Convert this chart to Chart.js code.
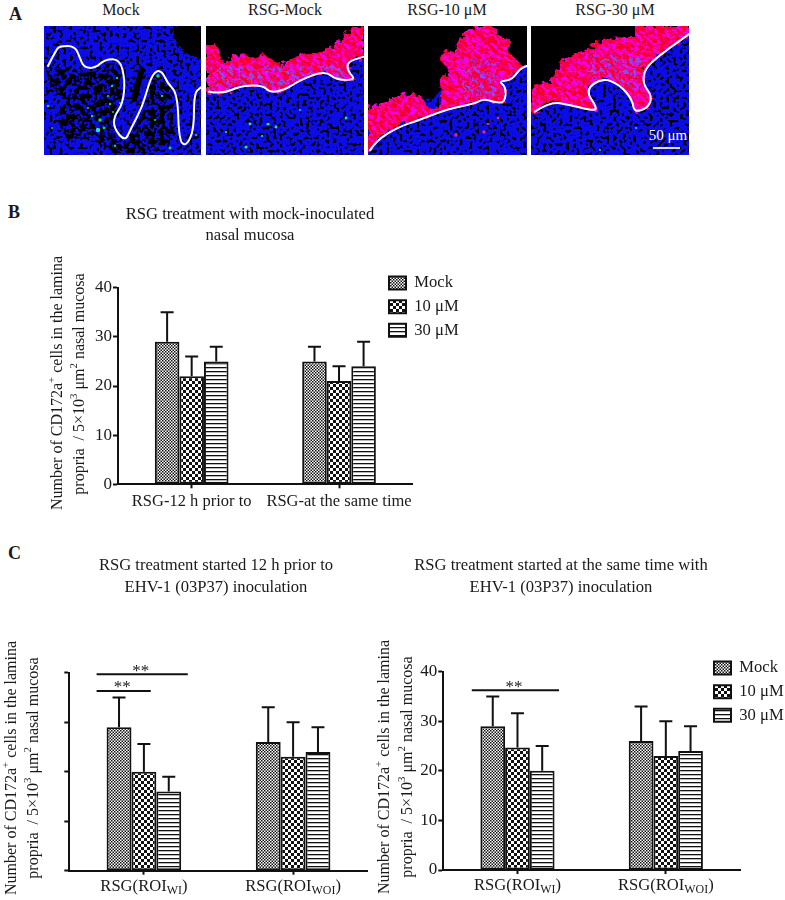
<!DOCTYPE html>
<html><head><meta charset="utf-8">
<script src="https://cdn.jsdelivr.net/npm/chart.js@4/dist/chart.umd.min.js"></script>
<style>
html,body{margin:0;padding:0;background:#fff;width:785px;height:900px;overflow:hidden}
body{position:relative;font-family:"Liberation Serif",serif;color:#1a1a1a}
canvas{position:absolute}
.t{position:absolute;white-space:nowrap;transform:translate(-50%,-50%);font-size:16px}
.p{position:absolute;font-weight:bold;font-size:18px;transform:translateY(-50%)}
svg{position:absolute;left:0;top:0}
</style></head><body>
<div class="p" style="left:9px;top:14px">A</div>
<div class="p" style="left:8px;top:212px">B</div>
<div class="p" style="left:8px;top:553px">C</div>
<div class="t" style="left:121px;top:10px">Mock</div>
<div class="t" style="left:285px;top:10px">RSG-Mock</div>
<div class="t" style="left:447px;top:10px">RSG-10 μM</div>
<div class="t" style="left:615px;top:10px">RSG-30 μM</div>
<svg width="785" height="170" viewBox="0 0 785 170">
<defs>
<filter id="spk" x="0" y="0" width="100%" height="100%"><feTurbulence type="fractalNoise" baseFrequency=".3" numOctaves="1" seed="4"/><feColorMatrix values="0 0 0 0 0 0 0 0 0 0 0 0 0 0 0 14 0 0 0 -7.6"/></filter>
<filter id="heavy" x="0" y="0" width="100%" height="100%"><feTurbulence type="fractalNoise" baseFrequency=".2" numOctaves="2" seed="14"/><feColorMatrix values="0 0 0 0 0 0 0 0 0 0 0 0 0 0 0 14 0 0 0 -6.4"/></filter>
<filter id="mag" x="0" y="0" width="100%" height="100%"><feTurbulence type="fractalNoise" baseFrequency=".26" numOctaves="2" seed="12"/><feColorMatrix values="0 0 0 0 .9 0 0 0 0 0 0 0 0 0 .88 5 0 0 0 -2.2"/></filter>
<filter id="blu" x="0" y="0" width="100%" height="100%"><feTurbulence type="fractalNoise" baseFrequency=".24" numOctaves="2" seed="21"/><feColorMatrix values="0 0 0 0 .25 0 0 0 0 .08 0 0 0 0 .85 6 0 0 0 -3.1"/></filter>
<filter id="rough" x="-5%" y="-5%" width="110%" height="110%"><feTurbulence type="fractalNoise" baseFrequency=".17" numOctaves="2" seed="6"/><feDisplacementMap in="SourceGraphic" scale="10"/></filter>
<filter id="glow" x="-40%" y="-40%" width="180%" height="180%"><feGaussianBlur stdDeviation=".7"/></filter>
<filter id="soft" x="-10%" y="-10%" width="120%" height="120%"><feGaussianBlur stdDeviation="3"/></filter>
<clipPath id="c1"><rect x="44" y="26" width="157" height="129"/></clipPath>
<clipPath id="c2"><rect x="206" y="26" width="158" height="129"/></clipPath>
<clipPath id="c3"><rect x="368" y="26" width="159" height="129"/></clipPath>
<clipPath id="c4"><rect x="531" y="26" width="158" height="129"/></clipPath>
<clipPath id="d1"><polygon transform="scale(.5 .33333)" points="92,210 130,205 160,215 190,215 215,190 240,190 247,300 225,350 225,410 250,440 280,350 300,300 300,460 215,460 185,410 135,420 110,350 135,300 100,260"/><polygon transform="scale(.5 .33333)" points="300,230 320,225 345,280 348,440 300,460"/></clipPath>
<clipPath id="r2"><polygon transform="scale(.5 .33333)" points="412,135 430,130 445,185 480,160 510,175 530,165 560,195 600,165 640,160 680,125 700,85 728,78 728,170 695,185 695,210 712,240 670,240 650,212 600,240 570,270 540,278 525,255 480,258 445,282 412,278"/></clipPath>
<clipPath id="r3"><polygon transform="scale(.5 .33333)" points="736,321 783,301 813,281 840,286 860,331 883,306 880,236 903,226 890,196 877,176 890,156 907,151 923,106 950,81 993,81 993,106 1020,116 1017,156 1043,196 1055,196 1037,206 1023,236 997,241 1010,256 1010,306 983,306 963,296 950,311 890,328 860,345 837,356 797,376 763,406 740,451 736,456"/></clipPath>
<clipPath id="r4"><polygon transform="scale(.5 .33333)" points="1062,260 1100,245 1130,175 1170,150 1210,115 1270,110 1270,78 1380,78 1380,100 1320,165 1290,205 1285,250 1305,290 1295,325 1268,337 1265,300 1240,255 1205,233 1170,270 1195,325 1185,332 1140,315 1100,305 1070,335 1062,340"/></clipPath>
</defs>
<!-- micrograph 1 -->
<g clip-path="url(#c1)"><rect x="44" y="26" width="157" height="129" fill="#0c0ce6"/><rect x="44" y="26" width="157" height="129" filter="url(#spk)"/>
<g clip-path="url(#d1)"><rect x="44" y="26" width="157" height="129" filter="url(#heavy)"/></g>
<g transform="scale(.5 .33333)"><polygon points="347,78 403,78 403,176 370,160 347,110" fill="#000" filter="url(#rough)"/><polygon points="280,196 262,296 273,306 290,206" fill="#000"/></g>
<g fill="#18d850" filter="url(#glow)"><circle cx="112" cy="86" r="1.2"/><circle cx="117" cy="78" r="1.2"/><circle cx="110" cy="104" r="1.2"/><circle cx="113" cy="112" r="1"/><circle cx="100" cy="120" r="1.8"/><circle cx="98" cy="130" r="2.2" fill="#20e8c0"/><circle cx="104" cy="128" r="1.4"/><circle cx="92" cy="116" r="1.2"/><circle cx="120" cy="103" r="1"/><circle cx="158" cy="76" r="1.8"/><circle cx="162" cy="96" r="1.2"/><circle cx="155" cy="120" r="1"/><circle cx="48" cy="106" r="1.3"/><circle cx="115" cy="146" r="1.2"/><circle cx="170" cy="148" r="1.4"/><circle cx="108" cy="96" r="1.1"/><circle cx="88" cy="108" r="1"/><circle cx="52" cy="128" r=".9"/><circle cx="196" cy="135" r="1"/></g></g>
<!-- micrograph 2 -->
<g clip-path="url(#c2)"><rect x="206" y="26" width="158" height="129" fill="#0c0ce6"/><rect x="206" y="26" width="158" height="129" filter="url(#spk)"/>
<g transform="scale(.5 .33333)"><polygon points="412,78 728,78 728,170 600,190 412,280" fill="#000"/></g>
<g filter="url(#rough)"><g clip-path="url(#r2)"><rect x="206" y="26" width="158" height="90" fill="#f4002c"/><rect x="206" y="26" width="158" height="90" filter="url(#mag)"/><rect x="206" y="66" width="158" height="40" filter="url(#blu)"/></g></g>
<g fill="#20e0a0" filter="url(#glow)"><circle cx="250" cy="124" r="1.4"/><circle cx="268" cy="124" r="1.6"/><circle cx="276" cy="127" r="1.4"/><circle cx="246" cy="147" r="1.6"/><circle cx="262" cy="136" r="1.1"/><circle cx="346" cy="118" r="1.4"/><circle cx="226" cy="132" r="1.1"/><circle cx="300" cy="110" r=".9"/></g></g>
<!-- micrograph 3 -->
<g clip-path="url(#c3)"><rect x="368" y="26" width="159" height="129" fill="#0c0ce6"/><rect x="368" y="26" width="159" height="129" filter="url(#spk)"/>
<g transform="scale(.5 .33333)"><polygon points="736,78 1055,78 1055,196 1000,200 900,232 880,272 866,296 845,296 736,335" fill="#000"/></g>
<g filter="url(#rough)"><g clip-path="url(#r3)"><rect x="368" y="26" width="159" height="129" fill="#f4002c"/><rect x="368" y="26" width="159" height="129" filter="url(#mag)"/><rect x="462" y="60" width="36" height="38" filter="url(#blu)"/></g></g>
<g fill="#e020a0" filter="url(#glow)"><circle cx="456" cy="135" r="1.8"/><circle cx="484" cy="132" r="1.8"/><circle cx="498" cy="118" r="1.3"/><circle cx="488" cy="124" r="1.3"/></g></g>
<!-- micrograph 4 -->
<g clip-path="url(#c4)"><rect x="531" y="26" width="158" height="129" fill="#0c0ce6"/><rect x="531" y="26" width="158" height="129" filter="url(#spk)"/>
<g transform="scale(.5 .33333)"><polygon points="1062,78 1380,78 1380,100 1200,240 1062,335" fill="#000"/></g>
<g filter="url(#rough)"><g clip-path="url(#r4)"><rect x="531" y="26" width="158" height="129" fill="#f4002c"/><rect x="531" y="26" width="158" height="129" filter="url(#mag)"/><rect x="590" y="56" width="50" height="34" filter="url(#blu)"/></g></g>
<g fill="#20e0a0" filter="url(#glow)"><circle cx="600" cy="150" r="1"/><circle cx="636" cy="128" r="1"/></g></g>
<!-- boundaries -->
<g transform="scale(.5 .33333)" fill="none" stroke="#fff" stroke-width="2" stroke-linejoin="round" stroke-linecap="round">
<path class="wl" vector-effect="non-scaling-stroke" data-p="96,198 112,150 120,138 150,138 160,175 168,202 190,205 210,178 240,178 250,240 246,310 228,350 228,385 250,425 262,385 285,320 300,240 312,212 325,215 335,250 355,280 358,420 372,440 388,390 388,280 402,262"/>
<path class="wl" vector-effect="non-scaling-stroke" data-p="418,275 445,282 480,258 525,255 540,278 570,270 600,240 650,212 672,240 712,240 695,212 695,185 728,170"/>
<path class="wl" vector-effect="non-scaling-stroke" data-p="740,451 753,421 797,381 837,361 897,326 950,311 967,296 987,306 1010,309 1012,261 997,244 1023,241 1040,206 1057,196"/>
<path class="wl" vector-effect="non-scaling-stroke" data-p="1070,335 1100,305 1140,315 1185,332 1195,325 1170,270 1205,233 1240,255 1265,300 1268,337 1295,325 1305,290 1285,250 1290,205 1320,165 1380,100"/>
</g>
<rect x="653" y="147" width="27" height="2" fill="#fff" opacity=".85"/>
<text x="668" y="140" fill="#fff" font-family="Liberation Serif" font-size="15" text-anchor="middle">50 μm</text>
</svg>

<canvas id="chartB" width="500" height="325" style="left:0;top:195px"></canvas>
<canvas id="chartC1" width="432" height="350" style="left:0;top:550px"></canvas>
<canvas id="chartC2" width="448" height="350" style="left:337px;top:550px"></canvas>

<script>
// ---- data ----
const seriesNames = ['Mock', '10 μM', '30 μM'];
const tickValues = [0, 10, 20, 30, 40];

const categoriesB = ['RSG-12 h prior to', 'RSG-at the same time'];
const mockB = [29, 25];
const tenB = [22, 21];
const thirtyB = [25, 24];
const mockBUpper = [35, 28];
const tenBUpper = [26, 24];
const thirtyBUpper = [28, 29];

const categoriesC = ['RSG(ROI_{WI})', 'RSG(ROI_{WOI})'];
const mockC1 = [29, 26];
const tenC1 = [20, 23];
const thirtyC1 = [16, 24];
const mockC1Upper = [35, 33];
const tenC1Upper = [25.6, 30];
const thirtyC1Upper = [19, 29];

const mockC2 = [29, 26];
const tenC2 = [24.7, 23];
const thirtyC2 = [20, 24];
const mockC2Upper = [35, 33];
const tenC2Upper = [31.6, 30];
const thirtyC2Upper = [25, 29];

const titleB = ['RSG treatment with mock-inoculated', 'nasal mucosa'];
const titleC1 = ['RSG treatment started 12 h prior to', 'EHV-1 (03P37) inoculation'];
const titleC2 = ['RSG treatment started at the same time with', 'EHV-1 (03P37) inoculation'];
const yTitleLines = ['Number of CD172a^{+} cells in the lamina', 'propria  / 5×10^{3} μm^{2} nasal mucosa'];
const sigC1 = [[39.7, -0.317, 0.294], [36.3, -0.317, 0.046]];
const sigC2 = [[36.25, -0.308, 0.28]];

// ---- smooth the tissue boundaries in the micrographs ----
document.querySelectorAll('.wl').forEach(el => {
  const p = el.dataset.p.split(' ').map(s => s.split(',').map(Number));
  let d = 'M' + p[0];
  for (let i = 1; i < p.length - 1; i++) {
    const mx = (p[i][0] + p[i + 1][0]) / 2, my = (p[i][1] + p[i + 1][1]) / 2;
    d += ' Q' + p[i] + ' ' + mx + ',' + my;
  }
  el.setAttribute('d', d + ' L' + p[p.length - 1]);
});

// ---- fills ----
const ink = '#1a1a1a', serif = '"Liberation Serif", serif';
function tile(w, h, draw) {
  const c = document.createElement('canvas');
  c.width = w; c.height = h;
  const g = c.getContext('2d');
  g.fillStyle = '#fff'; g.fillRect(0, 0, w, h);
  g.fillStyle = '#111'; draw(g);
  return g.createPattern(c, 'repeat');
}
const fillMock = tile(3, 3, g => { g.fillRect(0, 0, 1.5, 1.5); g.fillRect(1.5, 1.5, 1.5, 1.5); });
const fillTen = tile(6, 6, g => { g.fillRect(0, 0, 3, 3); g.fillRect(3, 3, 3, 3); });
const fillThirty = tile(4, 4, g => { g.fillRect(0, 0, 4, 1.3); });

// ---- helpers ----
function drawRuns(ctx, text, x, y, size, angle) {
  const parts = text.split(/(\^\{[^}]*\}|_\{[^}]*\})/).filter(Boolean).map(s => {
    if (s[0] === '^') return { t: s.slice(2, -1), f: size * 0.68, d: -size * 0.36 };
    if (s[0] === '_') return { t: s.slice(2, -1), f: size * 0.72, d: size * 0.28 };
    return { t: s, f: size, d: 0 };
  });
  ctx.save();
  ctx.translate(x, y);
  ctx.rotate(angle || 0);
  ctx.fillStyle = ink;
  ctx.textBaseline = 'middle';
  ctx.textAlign = 'left';
  let total = 0;
  parts.forEach(p => { ctx.font = p.f + 'px ' + serif; p.w = ctx.measureText(p.t).width; total += p.w; });
  let cx = -total / 2;
  parts.forEach(p => { ctx.font = p.f + 'px ' + serif; ctx.fillText(p.t, cx, p.d); cx += p.w; });
  ctx.restore();
}

const errorBars = {
  id: 'errorBars',
  afterDatasetsDraw(chart) {
    const { ctx, scales: { y } } = chart;
    ctx.save();
    ctx.strokeStyle = '#111'; ctx.lineWidth = 2;
    chart.data.datasets.forEach((ds, i) => {
      chart.getDatasetMeta(i).data.forEach((bar, k) => {
        const top = y.getPixelForValue(ds.upper[k]);
        ctx.beginPath();
        ctx.moveTo(bar.x, bar.y); ctx.lineTo(bar.x, top);
        ctx.moveTo(bar.x - 6.5, top); ctx.lineTo(bar.x + 6.5, top);
        ctx.stroke();
      });
    });
    ctx.restore();
  }
};
const extras = {
  id: 'extras',
  afterLayout(chart, args, o) {
    const l = chart.legend;
    if (o.legendAt && l) {
      const w = l.width, h = l.height;
      l.left = o.legendAt[0]; l.right = l.left + w;
      l.top = o.legendAt[1]; l.bottom = l.top + h;
    }
  },
  afterDraw(chart, args, o) {
    const { ctx, scales: { x, y } } = chart;
    (o.yTitle || []).forEach(t => drawRuns(ctx, yTitleLines[t[0]], t[1], t[2], 16, -Math.PI / 2));
    if (o.xRuns) chart.data.labels.forEach((s, i) => drawRuns(ctx, s, x.getPixelForValue(i), y.bottom + 15.5, 16.6, 0));
    (o.sig || []).forEach(b => {
      const py = y.getPixelForValue(b[0]);
      const cw = x.getPixelForValue(1) - x.getPixelForValue(0);
      const x0 = x.getPixelForValue(0) + b[1] * cw, x1 = x.getPixelForValue(0) + b[2] * cw;
      ctx.save();
      ctx.strokeStyle = '#111'; ctx.lineWidth = 2;
      ctx.beginPath(); ctx.moveTo(x0, py); ctx.lineTo(x1, py); ctx.stroke();
      ctx.fillStyle = ink; ctx.font = '17px ' + serif;
      ctx.textAlign = 'center'; ctx.textBaseline = 'middle';
      ctx.fillText('**', (x0 + x1) / 2 - 1.5, py - 3);
      ctx.restore();
    });
  }
};

function makeChart(id, cfg) {
  const ds = (label, data, upper, fill) => ({
    label, data, upper, backgroundColor: fill, hoverBackgroundColor: fill,
    borderColor: '#111', borderWidth: 2, borderSkipped: false,
    categoryPercentage: 0.5, barPercentage: 1
  });
  return new Chart(document.getElementById(id), {
    type: 'bar',
    data: {
      labels: cfg.labels,
      datasets: [
        ds(seriesNames[0], cfg.values[0], cfg.upper[0], fillMock),
        ds(seriesNames[1], cfg.values[1], cfg.upper[1], fillTen),
        ds(seriesNames[2], cfg.values[2], cfg.upper[2], fillThirty)
      ]
    },
    plugins: [errorBars, extras],
    options: {
      responsive: false, animation: false, events: [],
      layout: { padding: { left: cfg.padL, right: cfg.right, top: 0, bottom: 0 } },
      plugins: {
        tooltip: { enabled: false },
        title: {
          display: true, text: cfg.title, color: ink, position: 'top',
          font: { family: serif, size: 16.6, weight: 'normal', lineHeight: cfg.lh / 16.6 },
          padding: { top: cfg.tp, bottom: cfg.areaTop - cfg.tp - 2 * cfg.lh }
        },
        legend: {
          display: !!cfg.legendAt, position: 'chartArea', align: 'start',
          labels: { color: ink, boxWidth: 17, boxHeight: 13, padding: 7,
                    font: { family: serif, size: 16.6 } }
        },
        extras: { legendAt: cfg.legendAt, yTitle: cfg.yTitle, xRuns: cfg.xRuns, sig: cfg.sig }
      },
      scales: {
        x: {
          grid: { display: true, offset: false, drawOnChartArea: false, drawTicks: true, tickLength: 4, tickWidth: 2, tickColor: '#111' },
          border: { color: '#111', width: 2 },
          ticks: { color: ink, padding: 3, maxRotation: 0, autoSkip: false,
                   font: { family: serif, size: 16.5 },
                   callback(v, i) { return cfg.xRuns ? '' : cfg.labels[i]; } },
          afterFit(s) { s.height = cfg.xH; }
        },
        y: {
          min: 0, max: 40,
          grid: { display: true, drawOnChartArea: false, drawTicks: true, tickLength: 5, tickWidth: 2, tickColor: '#111' },
          border: { color: '#111', width: 2 },
          afterBuildTicks(s) { s.ticks = tickValues.map(v => ({ value: v })); },
          ticks: { color: ink, padding: 1, font: { family: serif, size: 17 } },
          afterFit(s) { s.width = cfg.left - cfg.padL; }
        }
      }
    }
  });
}

makeChart('chartB', {
  labels: categoriesB, title: titleB, tp: 9, lh: 21, areaTop: 92.7, padL: 87.3, left: 118, right: 87.3, xH: 35.7,
  values: [mockB, tenB, thirtyB], upper: [mockBUpper, tenBUpper, thirtyBUpper],
  legendAt: [382, 72.8], yTitle: [[0, 58, 188], [1, 80, 189]]
});
makeChart('chartC1', {
  labels: categoriesC, title: titleC1, tp: 5, lh: 22, areaTop: 122.7, padL: 64.3, left: 69.3, right: 64.3, xH: 29.3,
  values: [mockC1, tenC1, thirtyC1], upper: [mockC1Upper, tenC1Upper, thirtyC1Upper],
  xRuns: true, sig: sigC1, yTitle: [[0, 12, 218], [1, 34, 218]]
});
makeChart('chartC2', {
  labels: categoriesC, title: titleC2, tp: 5, lh: 22, areaTop: 121.7, padL: 45, left: 106.3, right: 45, xH: 30,
  values: [mockC2, tenC2, thirtyC2], upper: [mockC2Upper, tenC2Upper, thirtyC2Upper],
  legendAt: [370, 102.8], xRuns: true, sig: sigC2, yTitle: [[0, 48, 217], [1, 71, 217]]
});
</script>
</body></html>
